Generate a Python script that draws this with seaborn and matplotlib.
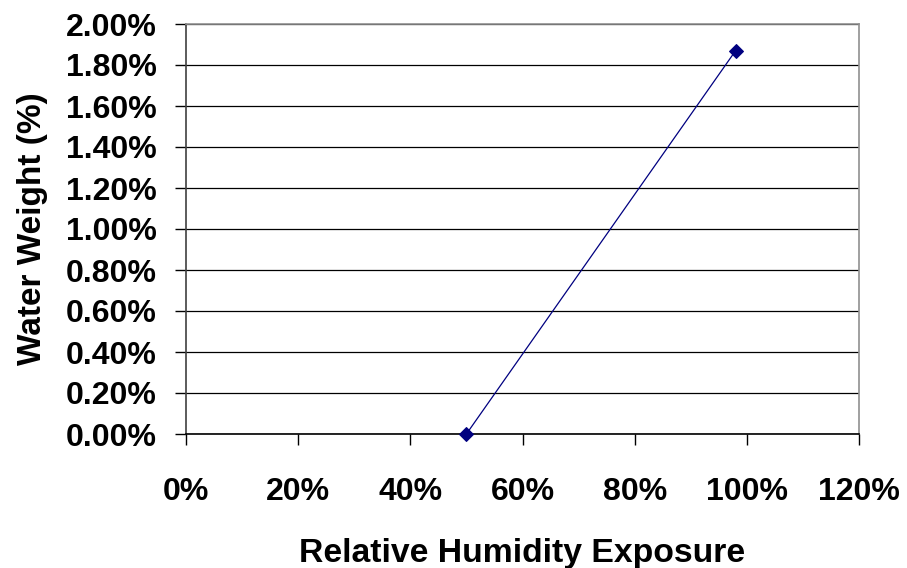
import matplotlib
matplotlib.use("Agg")
import matplotlib.pyplot as plt
import seaborn as sns
import pandas as pd
from matplotlib.ticker import PercentFormatter, MultipleLocator

# Data
humidity = [0.50, 0.98]
water_weight = [0.0, 0.0187]

df = pd.DataFrame({"Relative Humidity Exposure": humidity, "Water Weight (%)": water_weight})

sns.set_style("white")
plt.rcParams["font.family"] = ["Liberation Sans", "DejaVu Sans"]
plt.rcParams["font.weight"] = "bold"
plt.rcParams["text.color"] = "black"
plt.rcParams["axes.labelcolor"] = "black"
plt.rcParams["xtick.color"] = "black"
plt.rcParams["ytick.color"] = "black"

fig = plt.figure(figsize=(9.07, 5.68), dpi=100)
ax = fig.add_axes([186/907, 1 - 434/568, (859 - 186)/907, (434 - 24)/568])

sns.lineplot(data=df, x="Relative Humidity Exposure", y="Water Weight (%)", ax=ax,
             color="#000080", marker="D", markersize=7, linewidth=0.9,
             markeredgecolor="#000080", clip_on=False, zorder=5)

ax.set_xlim(0, 1.2)
ax.set_ylim(0, 0.02)
ax.xaxis.set_major_locator(MultipleLocator(0.2))
ax.yaxis.set_major_locator(MultipleLocator(0.002))
ax.xaxis.set_major_formatter(PercentFormatter(xmax=1, decimals=0))
ax.yaxis.set_major_formatter(PercentFormatter(xmax=1, decimals=2))

ax.set_axisbelow(True)
ax.yaxis.grid(True, color="black", linewidth=0.9)
ax.xaxis.grid(False)

for s in ["top", "right"]:
    ax.spines[s].set_color("#909090")
    ax.spines[s].set_linewidth(1.2)
ax.spines["left"].set_color("#404040")
ax.spines["bottom"].set_color("black")
ax.spines["left"].set_linewidth(1.2)
ax.spines["bottom"].set_linewidth(1.2)

ax.tick_params(axis="x", direction="out", length=8, width=1, color="black",
               labelcolor="black", bottom=True, pad=23, labelsize=23)
ax.tick_params(axis="y", direction="out", length=8, width=1, color="black",
               labelcolor="black", left=True, pad=13, labelsize=23)
for lab in ax.get_xticklabels() + ax.get_yticklabels():
    lab.set_fontweight("bold")

ax.set_xlabel("Relative Humidity Exposure", fontsize=24.3, fontweight="bold",
              labelpad=22, color="black")
ax.set_ylabel("Water Weight (%)", fontsize=24, fontweight="bold", labelpad=13,
              color="black")

fig.savefig("out.png", dpi=100, facecolor="white")
